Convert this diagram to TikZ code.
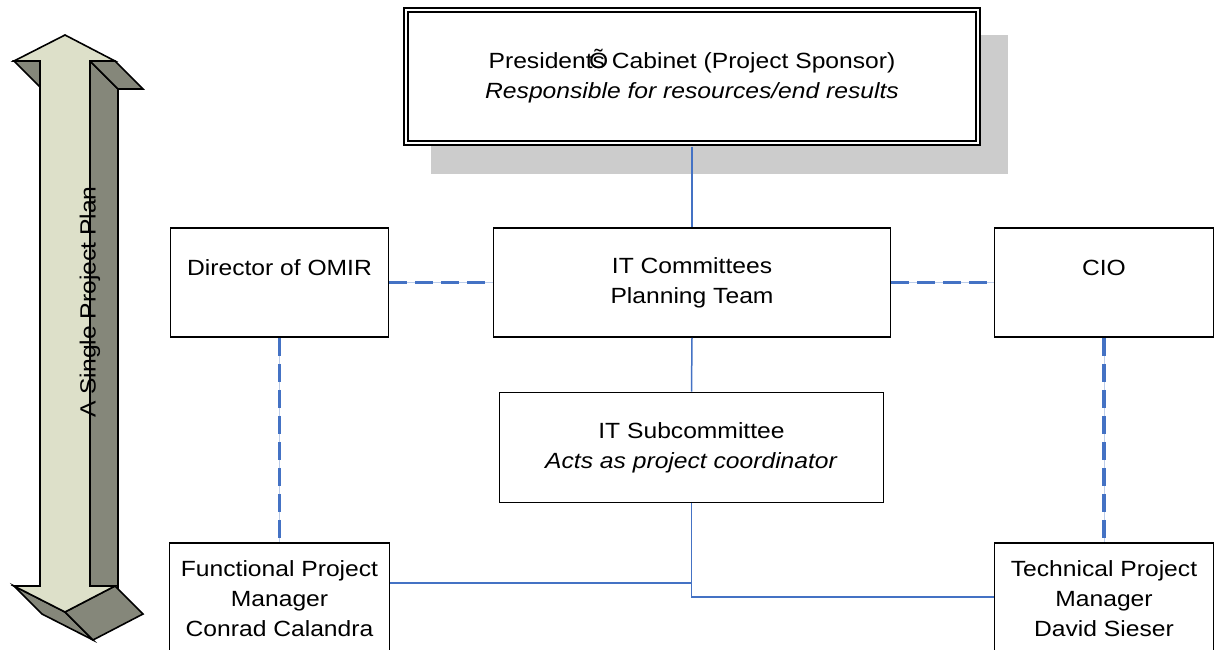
\documentclass[tikz,border=0pt]{standalone}
\usepackage{fontspec}
\setmainfont{Liberation Sans}[FakeStretch=1.12]
\definecolor{linkblue}{RGB}{68,114,196}
\definecolor{shadowgray}{RGB}{204,204,204}
\definecolor{arrowlight}{RGB}{221,224,201}
\definecolor{arrowdark}{RGB}{133,135,122}
\begin{document}
\begin{tikzpicture}[x=1pt,y=-1pt,
  every node/.style={font=\fontsize{22}{30}\selectfont},
  box/.style={draw=black,line width=1.6pt,fill=white,align=center,inner sep=0pt},
  link/.style={draw=linkblue,line width=1.5pt},
  dashlink/.style={draw=linkblue,line width=3.8pt,dash pattern=on 18pt off 8pt,
    preaction={draw=linkblue!35,line width=1pt,solid}},
  face/.style={draw=black,line width=1.6pt}]
  \useasboundingbox (0,0) rectangle (1216,650);
  % the 3d double arrow on the left
  \filldraw [face,fill=arrowdark] (90,61) -- (118,89) -- (118,614) -- (90,586) -- cycle;
  \filldraw [face,fill=arrowdark] (90,61) -- (115,61) -- (143,89) -- (118,89) -- cycle;
  \filldraw [face,fill=arrowdark] (14,61) -- (40,61) -- (68,89) -- (42,89) -- cycle;
  \filldraw [face,fill=arrowdark] (14,586) -- (65,612) -- (93,640) -- (42,614) -- cycle;
  \filldraw [face,fill=arrowdark] (65,612) -- (115,586) -- (143,614) -- (93,640) -- cycle;
  \filldraw [face,fill=arrowlight] (65,35) -- (115,61) -- (90,61) -- (90,586) -- (115,586)
    -- (65,612) -- (14,586) -- (40,586) -- (40,61) -- (14,61) -- cycle;
  \node [rotate=90] (plan) at (90,302) {A Single Project Plan};
  % sponsor box with its shadow
  \fill [shadowgray] (431,35) rectangle (1008,174);
  \node [box,double,double distance=2.6pt,minimum width=572pt,minimum height=133pt] (cabinet) at (692,76.5)
    {President\makebox[0pt][l]{\hspace{-0.16em}Õ}s Cabinet (Project Sponsor)\\\textit{Responsible for resources/end results}};
  \node [box,minimum width=218pt,minimum height=109pt] (omir) at (279.5,282.5) {Director of OMIR\\\mbox{}};
  \node [box,minimum width=397pt,minimum height=109pt] (committees) at (692,282.5) {IT Committees\\Planning Team};
  \node [box,minimum width=219pt,minimum height=109pt] (cio) at (1104,282.5) {CIO\\\mbox{}};
  \node [box,minimum width=384pt,minimum height=110pt] (subcommittee) at (691.5,447.5)
    {IT Subcommittee\\\textit{Acts as project coordinator}};
  \node [box,minimum width=220pt,minimum height=112pt] (functional) at (279.5,599)
    {Functional Project\\Manager\\Conrad Calandra};
  \node [box,minimum width=219pt,minimum height=112pt] (technical) at (1104,599)
    {Technical Project\\Manager\\David Sieser};
  \coordinate (fjoin) at ([yshift=-41pt]functional.north east);
  \coordinate (tjoin) at ([yshift=-55pt]technical.north west);
  % connectors
  \draw [link,shorten <=3pt] (cabinet.south) -- (committees.north);
  \draw [link] (committees.south) -- (subcommittee.north);
  \draw [link] (subcommittee.south) |- (fjoin);
  \draw [link] (subcommittee.south |- fjoin) |- (tjoin);
  \draw [dashlink] (omir.east) -- (committees.west);
  \draw [dashlink] (committees.east) -- (cio.west);
  \draw [dashlink] (omir.south) -- (functional.north);
  \draw [dashlink] (cio.south) -- (technical.north);
\end{tikzpicture}
\end{document}
